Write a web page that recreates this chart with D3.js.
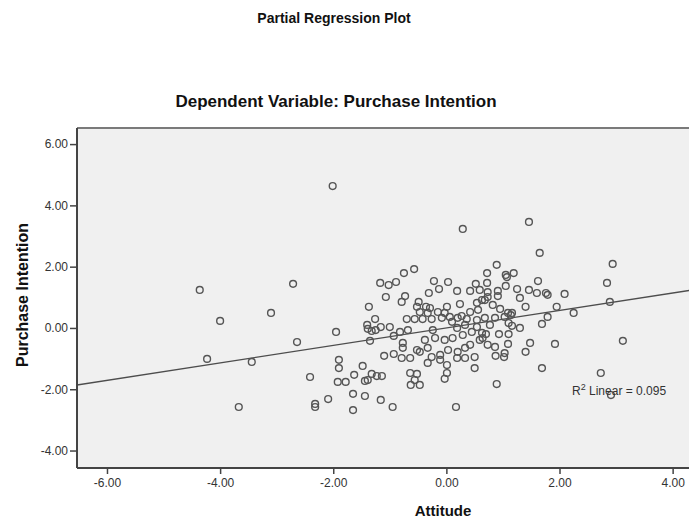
<!DOCTYPE html>
<html>
<head>
<meta charset="utf-8">
<script src="https://cdn.jsdelivr.net/npm/d3@7"></script>
<style>
  html, body { margin: 0; padding: 0; background: #ffffff; }
  svg { display: block; }
</style>
</head>
<body>
<svg id="chart" width="689" height="522"></svg>
<script>
// ---- data ----
const title = "Partial Regression Plot";
const subtitle = "Dependent Variable: Purchase Intention";
const xLabel = "Attitude";
const yLabel = "Purchase Intention";
const xTicks = [-6, -4, -2, 0, 2, 4];
const yTicks = [-4, -2, 0, 2, 4, 6];
const fitSlope = 0.285;
const fitIntercept = 0.0;
const r2Text = "0.095";

const attitude = [
  -4.36, -4.00, -3.10, -4.23, -3.44, -3.67, -2.01, -2.71, -1.95, -2.64,
  -2.41, -1.90, -1.90, -1.92, -1.78, -1.63, -1.48, -1.44, -1.39, -1.32,
  -1.23, -1.14, -1.65, -1.44, -1.16, -0.95, -2.09, -2.32, -2.32, -1.65,
   0.17,  0.29, -1.37, -1.17, -1.02, -0.89, -0.75, -0.57, -1.07, -0.73,
  -0.79, -1.26, -1.40, -1.39, -1.32, -1.25, -1.16, -1.00, -1.35, -1.10,
  -0.93, -0.93, -0.63, -0.47, -0.03,
  -0.70, -0.56, -0.42, -0.26, -0.08,  0.06,  0.20,  0.36,  0.54, -0.82,
  -0.68, -0.38, -0.20, -0.03,  0.11,  0.29,  0.45,  0.54,  0.63, -0.24,
   0.19,  0.33, -0.77, -0.77, -0.47, -0.33, -0.26, -0.11,  0.03,  0.20,
   0.33, -0.79, -0.64, -0.52, -0.33, -0.11,  0.01,  0.19,  0.33,  0.50,
   0.50, -0.64, -0.52,  0.01, -0.56,
  -0.22,  0.03, -0.13, -0.31,  0.19,  0.42,  0.52, -0.49, -0.52, -0.36,
  -0.29,  0.01,  0.24,  0.54, -0.47, -0.33, -0.15, -0.03,  0.59,  0.63,
   0.56,
   1.65,  0.89,  1.05,  1.07,  1.19,  0.72,  1.62,  0.72,  0.73,  0.91,
   0.91,  1.05,  1.25,  1.46,  1.60,  1.76,  1.79,  2.09,  1.30,  0.82,
   0.95,  1.40,  1.95,  0.68,  0.73,  1.09,  1.16,
   1.46,  2.94,  2.84,  2.89,  2.25,  1.79,  1.69,  3.12,  1.92,  1.48,
   1.40,  1.69,  2.73,  2.91,  0.89,  1.14,  1.10,  1.16,  1.30,  0.93,
   1.10,  1.09,  1.03,  1.02,  0.87,  0.86,  0.73,  0.64,  0.70,  1.03,
   0.86,  0.68,  0.10,  0.27,  0.42,  0.77,  0.59,  0.42
];
const purchase = [
   1.24,  0.23,  0.49, -1.01, -1.11, -2.58,  4.63,  1.44, -0.13, -0.46,
  -1.60, -1.04, -1.31, -1.76, -1.76, -1.53, -1.24, -1.73, -1.70, -1.50,
  -1.57, -1.57, -2.15, -2.22, -2.35, -2.58, -2.32, -2.48, -2.58, -2.68,
  -2.58,  3.23,  0.69,  1.47,  1.40,  1.50,  1.79,  1.92,  1.01,  1.04,
   0.85,  0.29,  0.10, -0.03, -0.10, -0.07,  0.03,  0.03, -0.42, -0.91,
  -0.85, -0.26, -1.86, -1.86, -1.66,
   0.29,  0.29,  0.29,  0.29,  0.33,  0.36,  0.33,  0.29,  0.26, -0.13,
  -0.07, -0.39, -0.33, -0.39, -0.33, -0.23, -0.13,  0.03, -0.16, -0.07,
   0.00,  0.10, -0.49, -0.65, -0.78, -0.65, -0.95, -0.88, -0.72, -0.78,
  -0.65, -0.98, -0.98, -0.72, -1.14, -1.04, -1.21, -0.98, -0.98, -0.95,
  -1.31, -1.47, -1.50, -1.47, -1.70,
   1.53,  1.50,  1.27,  1.14,  1.21,  1.21,  1.44,  0.85,  0.69,  0.69,
   0.65,  0.69,  0.78,  0.82,  0.52,  0.49,  0.52,  0.49,  1.24,  0.91,
   0.59,
   2.45,  2.06,  1.73,  1.66,  1.79,  1.79,  1.53,  1.47,  1.17,  1.21,
   1.04,  1.37,  1.27,  1.24,  1.14,  1.14,  1.08,  1.11,  0.98,  0.75,
   0.62,  0.69,  0.69,  0.91,  1.01,  0.49,  0.49,
   3.46,  2.09,  1.47,  0.85,  0.49,  0.36,  0.13, -0.42, -0.52, -0.49,
  -0.78, -1.31, -1.47, -2.19, -1.83,  0.42,  0.16,  0.07,  0.00, -0.20,
  -0.20, -0.52, -0.82, -0.95, -0.91, -0.62, -0.55, -0.33, -0.20,  0.36,
   0.33,  0.33,  0.20,  0.39,  0.52,  0.10, -0.39, -0.55
];

// ---- layout ----
const svg = d3.select("#chart");
const plot = { left: 77, top: 128, right: 693, bottom: 468 };

const x = d3.scaleLinear().domain([-6.53, 4.36]).range([plot.left, plot.right]);
const y = d3.scaleLinear().domain([-4.57, 6.525]).range([plot.bottom, plot.top]);

const font = "'Liberation Sans', Arial, sans-serif";

// plot background
svg.append("rect")
  .attr("x", plot.left).attr("y", plot.top)
  .attr("width", plot.right - plot.left).attr("height", plot.bottom - plot.top)
  .attr("fill", "#f0f0f0");

// top border
svg.append("line")
  .attr("x1", plot.left).attr("x2", plot.right)
  .attr("y1", plot.top).attr("y2", plot.top)
  .attr("stroke", "#7a7a7a").attr("stroke-width", 2);

// clip
svg.append("clipPath").attr("id", "clip").append("rect")
  .attr("x", plot.left).attr("y", plot.top)
  .attr("width", plot.right - plot.left).attr("height", plot.bottom - plot.top);

const g = svg.append("g").attr("clip-path", "url(#clip)");

// fit line
const xd = x.domain();
g.append("line")
  .attr("x1", x(xd[0])).attr("y1", y(fitIntercept + fitSlope * xd[0]))
  .attr("x2", x(xd[1])).attr("y2", y(fitIntercept + fitSlope * xd[1]))
  .attr("stroke", "#4d4d4d").attr("stroke-width", 1.3);

// points
const pts = attitude.map((a, i) => ({ a, p: purchase[i] }));
g.selectAll("circle.pt").data(pts).enter().append("circle")
  .attr("class", "pt")
  .attr("cx", d => x(d.a)).attr("cy", d => y(d.p))
  .attr("r", 3.4)
  .attr("fill", "none")
  .attr("stroke", "#555555")
  .attr("stroke-width", 1.4);

// axes
const fmt = d => d.toFixed(2);
const xAxis = svg.append("g")
  .attr("transform", `translate(0,${plot.bottom})`)
  .call(d3.axisBottom(x).tickValues(xTicks).tickFormat(fmt).tickSizeOuter(0).tickSize(6).tickPadding(4));
const yAxis = svg.append("g")
  .attr("transform", `translate(${plot.left},0)`)
  .call(d3.axisLeft(y).tickValues(yTicks).tickFormat(fmt).tickSizeOuter(0).tickSize(7).tickPadding(2));

[xAxis, yAxis].forEach(ax => {
  ax.select(".domain").attr("stroke", "#444").attr("stroke-width", 2);
  ax.selectAll(".tick line").attr("stroke", "#444").attr("stroke-width", 1.5);
  ax.selectAll(".tick text")
    .attr("fill", "#333")
    .style("font-family", font)
    .style("font-size", "12px");
});
yAxis.select(".domain").attr("d", `M0,${plot.top}V${plot.bottom}`);
xAxis.select(".domain").attr("d", `M${plot.left},0H${plot.right}`);

// titles
svg.append("text")
  .attr("x", 334).attr("y", 23)
  .attr("text-anchor", "middle")
  .style("font-family", font).style("font-weight", "bold").style("font-size", "14px")
  .attr("fill", "#111")
  .text(title);

svg.append("text")
  .attr("x", 336).attr("y", 107)
  .attr("text-anchor", "middle")
  .style("font-family", font).style("font-weight", "bold").style("font-size", "17px")
  .attr("fill", "#111")
  .text(subtitle);

svg.append("text")
  .attr("x", 443).attr("y", 516)
  .attr("text-anchor", "middle")
  .style("font-family", font).style("font-weight", "bold").style("font-size", "15px")
  .attr("fill", "#111")
  .text(xLabel);

svg.append("text")
  .attr("transform", `translate(28,295) rotate(-90)`)
  .attr("text-anchor", "middle")
  .style("font-family", font).style("font-weight", "bold").style("font-size", "16px")
  .attr("fill", "#111")
  .text(yLabel);

// R² annotation
const r2 = svg.append("text")
  .attr("x", 572).attr("y", 395)
  .style("font-family", font).style("font-size", "12px")
  .attr("fill", "#333");
r2.append("tspan").text("R");
r2.append("tspan").attr("dy", -5).style("font-size", "9px").text("2");
r2.append("tspan").attr("dy", 5).text(" Linear = " + r2Text);
</script>
</body>
</html>
